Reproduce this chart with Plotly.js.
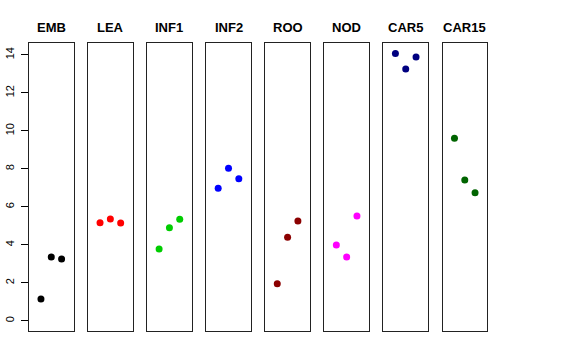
<!DOCTYPE html>
<html>
<head>
<meta charset="utf-8">
<script src="https://cdn.plot.ly/plotly-3.0.1.min.js"></script>
<style>html,body{margin:0;padding:0;background:#fff;}#chart{width:576px;height:360px;}</style>
</head>
<body>
<div id="chart"></div>
<script>
var categories = ["EMB", "LEA", "INF1", "INF2", "ROO", "NOD", "CAR5", "CAR15"];
var replicate = [1, 2, 3];
var EMB = [1.14, 3.36, 3.25];
var LEA = [5.16, 5.36, 5.15];
var INF1 = [3.78, 4.90, 5.34];
var INF2 = [6.98, 8.03, 7.47];
var ROO = [1.95, 4.39, 5.25];
var NOD = [3.99, 3.36, 5.52];
var CAR5 = [14.07, 13.25, 13.88];
var CAR15 = [9.61, 7.41, 6.74];
var seriesValues = [EMB, LEA, INF1, INF2, ROO, NOD, CAR5, CAR15];
var colors = ["#000000", "#FF0000", "#00CD00", "#0000FF", "#8B0000", "#FF00FF", "#000080", "#006400"];
var yTicks = [0, 2, 4, 6, 8, 10, 12, 14];

var W = 576, H = 360;
var mL = 29, mR = 88.5, mT = 43.3, mB = 29;
var plotW = W - mL - mR;
var step = 59.14, panelW = 44.6;

var data = [];
var layout = {
  width: W, height: H,
  margin: {l: mL, r: mR, t: mT, b: mB, pad: 0},
  paper_bgcolor: "#fff", plot_bgcolor: "#fff",
  showlegend: false,
  font: {family: "Liberation Sans, Arial, sans-serif", color: "#000"},
  annotations: []
};

categories.forEach(function(cat, i) {
  var sfx = i === 0 ? "" : String(i + 1);
  data.push({
    type: "scatter", mode: "markers",
    x: replicate, y: seriesValues[i],
    xaxis: "x" + sfx, yaxis: "y" + sfx,
    marker: {color: colors[i], size: 7},
    hoverinfo: "skip"
  });
  var d0 = (i * step) / plotW, d1 = (i * step + panelW) / plotW;
  layout["xaxis" + sfx] = {
    domain: [d0, Math.min(d1, 1)],
    range: [-0.16, 4.16],
    showgrid: false, zeroline: false, showticklabels: false, ticks: "",
    showline: true, mirror: true, linecolor: "#222", linewidth: 1,
    anchor: "y" + sfx, fixedrange: true
  };
  var ya = {
    range: [-0.54, 14.62],
    showgrid: false, zeroline: false,
    showline: true, mirror: true, linecolor: "#222", linewidth: 1,
    anchor: "x" + sfx, fixedrange: true
  };
  if (i === 0) {
    ya.tickvals = yTicks;
    ya.ticktext = yTicks.map(String);
    ya.ticks = "outside";
    ya.ticklen = 7;
    ya.tickcolor = "#000";
    ya.tickwidth = 1;
    ya.tickangle = -90;
    ya.ticklabelstandoff = 3;
    ya.tickfont = {size: 11, color: "#000", family: "Liberation Sans, Arial, sans-serif"};
  } else {
    ya.showticklabels = false;
    ya.ticks = "";
  }
  layout["yaxis" + sfx] = ya;
  layout.annotations.push({
    text: "<b>" + cat + "</b>",
    xref: "x" + sfx + " domain", yref: "paper",
    x: 0.5, y: 1, xanchor: "center", yanchor: "bottom", yshift: 6,
    showarrow: false,
    font: {size: 13, color: "#000", family: "Liberation Sans, Arial, sans-serif"}
  });
});

Plotly.newPlot("chart", data, layout, {staticPlot: true, displayModeBar: false});
</script>
</body>
</html>
